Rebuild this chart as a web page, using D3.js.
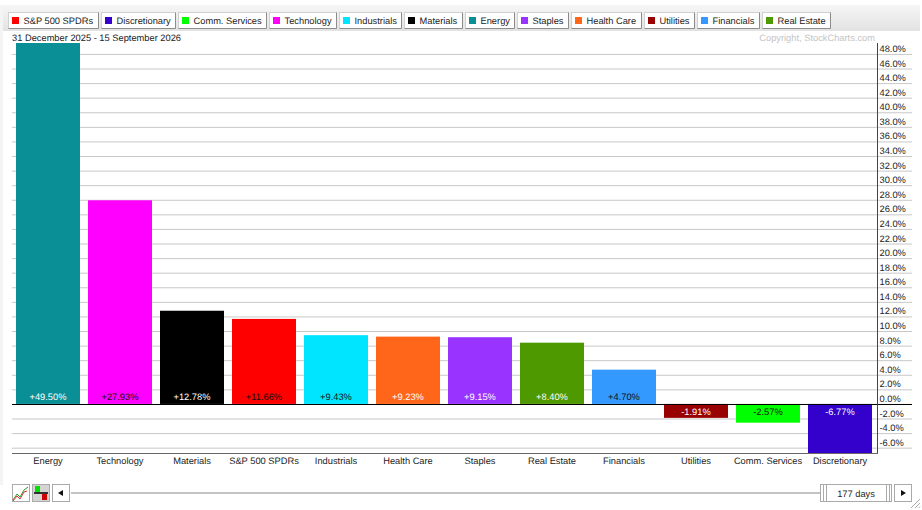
<!DOCTYPE html>
<html>
<head>
<meta charset="utf-8">
<script src="https://cdn.jsdelivr.net/npm/d3@7"></script>
<style>
html, body { margin: 0; padding: 0; background: #fff; overflow: hidden; }
text { font-family: "Liberation Sans", Arial, sans-serif; font-size: 9.3px; fill: #222; text-rendering: geometricPrecision; }
</style>
</head>
<body>
<div id="chart"></div>
<script>
// legend order
const legendNames = ["S&P 500 SPDRs", "Discretionary", "Comm. Services", "Technology", "Industrials", "Materials", "Energy", "Staples", "Health Care", "Utilities", "Financials", "Real Estate"];
const legendColors = ["#ff0000", "#3300cc", "#00ff00", "#ff00ff", "#00e5ff", "#000000", "#0a8f96", "#9933ff", "#ff6619", "#990000", "#3399ff", "#4f9900"];

// bars, sorted as in the picture
const sectors = ["Energy", "Technology", "Materials", "S&P 500 SPDRs", "Industrials", "Health Care", "Staples", "Real Estate", "Financials", "Utilities", "Comm. Services", "Discretionary"];
const changes = [49.50, 27.93, 12.78, 11.66, 9.43, 9.23, 9.15, 8.40, 4.70, -1.91, -2.57, -6.77];
const darkLabels = ["Technology", "S&P 500 SPDRs", "Industrials", "Financials", "Comm. Services"];

const yTicks = [48, 46, 44, 42, 40, 38, 36, 34, 32, 30, 28, 26, 24, 22, 20, 18, 16, 14, 12, 10, 8, 6, 4, 2, 0, -2, -4, -6];

const dateRange = "31 December 2025 - 15 September 2026";
const copyright = "Copyright, StockCharts.com";
const daysLabel = "177 days";

const width = 922, height = 510;
const plot = {left: 12, right: 877, top: 43, bottom: 453.3, gridEnd: 912};

const svg = d3.select("#chart").append("svg")
    .attr("width", width)
    .attr("height", height)
    .style("display", "block");

const pct = d => (d > 0 ? "+" : "") + d.toFixed(2) + "%";

// toolbar
const grad = svg.append("defs").append("linearGradient")
    .attr("id", "bar").attr("x1", 0).attr("x2", 0).attr("y1", 0).attr("y2", 1);
grad.append("stop").attr("offset", 0).attr("stop-color", "#f6f6f6");
grad.append("stop").attr("offset", 1).attr("stop-color", "#e2e2e2");
svg.append("rect").attr("x", 3).attr("y", 5).attr("width", 917).attr("height", 26).attr("fill", "url(#bar)");
svg.append("rect").attr("x", 0).attr("y", 5).attr("width", 3).attr("height", 480).attr("fill", "#f4f4f4");

// legend buttons, width follows the text
let legendX = 8;
legendNames.forEach(function(name, i){
    let g = svg.append("g").attr("transform", "translate(" + legendX + ",12)");
    let btn = g.append("rect").attr("x", 0.5).attr("y", 0.5).attr("height", 16)
        .attr("fill", "#fff").attr("stroke", "#d0d0d0");
    g.append("rect").attr("x", 4).attr("y", 5).attr("width", 7).attr("height", 7).attr("fill", legendColors[i]);
    let t = g.append("text").attr("x", 15.5).attr("y", 12).text(name);
    let w = Math.round(t.node().getComputedTextLength()) + 20;
    btn.attr("width", w);
    // darker right and bottom edge
    g.append("path").attr("d", "M" + (w + 0.5) + " 0.5V16.5H0.5").attr("fill", "none").attr("stroke", "#8c8c8c");
    legendX += w + 3;
});

svg.append("text").attr("x", 12).attr("y", 41).text(dateRange);
svg.append("text").attr("x", 875).attr("y", 41).attr("text-anchor", "end").style("fill", "#c4c4c4").text(copyright);

const x = d3.scaleBand()
    .domain(sectors)
    .range([plot.left, plot.right - 1])
    .paddingInner(1 / 9)
    .paddingOuter(1 / 18);

const y = d3.scaleLinear()
    .domain([-6.77, 49.5])
    .range([plot.bottom, plot.top]);

// gridlines and right axis labels
const yAxis = d3.axisRight(y).tickValues(yTicks)
    .tickSize(plot.gridEnd - plot.left)
    .tickFormat(d => d.toFixed(1) + "%");

const axisG = svg.append("g")
    .attr("transform", "translate(" + plot.left + ",0)")
    .call(yAxis);
axisG.select(".domain").remove();
axisG.selectAll("line").attr("stroke", "#c8c8c8");
axisG.selectAll("text")
    .attr("x", plot.right - plot.left + 2.5)
    .attr("dy", "-2.5px")
    .style("text-anchor", "start");

// bars
svg.append("g").selectAll("rect")
    .data(sectors)
    .join("rect")
    .attr("x", d => x(d))
    .attr("width", x.bandwidth())
    .attr("y", (d, i) => y(Math.max(changes[i], 0)))
    .attr("height", (d, i) => Math.abs(y(changes[i]) - y(0)))
    .attr("fill", d => legendColors[legendNames.indexOf(d)]);

// value labels, inside the bar next to the zero line
svg.append("g").selectAll("text")
    .data(sectors)
    .join("text")
    .attr("x", d => x(d) + x.bandwidth() / 2)
    .attr("y", (d, i) => y(0) + (changes[i] > 0 ? -4 : 11.5))
    .attr("text-anchor", "middle")
    .style("fill", d => darkLabels.includes(d) ? "#111" : "#fff")
    .text((d, i) => pct(changes[i]));

// zero line, frame, bottom labels
svg.append("line").attr("x1", plot.left).attr("x2", plot.gridEnd)
    .attr("y1", Math.round(y(0)) + 0.5).attr("y2", Math.round(y(0)) + 0.5).attr("stroke", "#000");
svg.append("line").attr("x1", plot.right + 0.5).attr("x2", plot.right + 0.5)
    .attr("y1", plot.top).attr("y2", 454).attr("stroke", "#444");
svg.append("line").attr("x1", plot.left).attr("x2", plot.right + 1)
    .attr("y1", 453.5).attr("y2", 453.5).attr("stroke", "#666");

svg.append("g").selectAll("text")
    .data(sectors)
    .join("text")
    .attr("x", d => x(d) + x.bandwidth() / 2)
    .attr("y", 464)
    .attr("text-anchor", "middle")
    .text(d => d);

// bottom controls
const ctrl = svg.append("g");
ctrl.append("rect").attr("x", 12.5).attr("y", 484.5).attr("width", 17).attr("height", 17).attr("fill", "#fff").attr("stroke", "#aaa");
ctrl.append("path").attr("d", "M13 500L17 494L20 497L24 490L28 487").attr("fill", "none").attr("stroke", "#2a9d2a");
ctrl.append("path").attr("d", "M13 501L17 496L20 499L24 492L27 491").attr("fill", "none").attr("stroke", "#e03030");
ctrl.append("rect").attr("x", 32.5).attr("y", 484.5).attr("width", 17).attr("height", 17).attr("fill", "#d4d4d4").attr("stroke", "#aaa");
ctrl.append("rect").attr("x", 35).attr("y", 486).attr("width", 5).attr("height", 6).attr("fill", "#00e000");
ctrl.append("rect").attr("x", 34).attr("y", 492).attr("width", 14).attr("height", 2).attr("fill", "#333");
ctrl.append("rect").attr("x", 42).attr("y", 494).attr("width", 5).attr("height", 6).attr("fill", "#d00000");
ctrl.append("rect").attr("x", 52.5).attr("y", 484.5).attr("width", 17).attr("height", 17).attr("fill", "#fff").attr("stroke", "#aaa");
ctrl.append("path").attr("d", "M58 493L63 490L63 496Z").attr("fill", "#111");
ctrl.append("rect").attr("x", 71).attr("y", 492).attr("width", 750).attr("height", 2).attr("fill", "#c4c4c4");
ctrl.append("rect").attr("x", 820.5).attr("y", 484.5).attr("width", 71).attr("height", 17).attr("fill", "#fff").attr("stroke", "#aaa");
ctrl.append("path").attr("d", "M823.5 485V501M826.5 485V501M886.5 485V501M889.5 485V501").attr("stroke", "#aaa");
ctrl.append("text").attr("x", 856).attr("y", 496.5).attr("text-anchor", "middle").text(daysLabel);
ctrl.append("rect").attr("x", 894.5).attr("y", 484.5).attr("width", 17).attr("height", 17).attr("fill", "#fff").attr("stroke", "#aaa");
ctrl.append("path").attr("d", "M901 490L906 493L901 496Z").attr("fill", "#111");
ctrl.append("path").attr("d", "M911 508L920 499M915 508L920 503M918.5 508L920 506.5").attr("stroke", "#aaa");
</script>
</body>
</html>
